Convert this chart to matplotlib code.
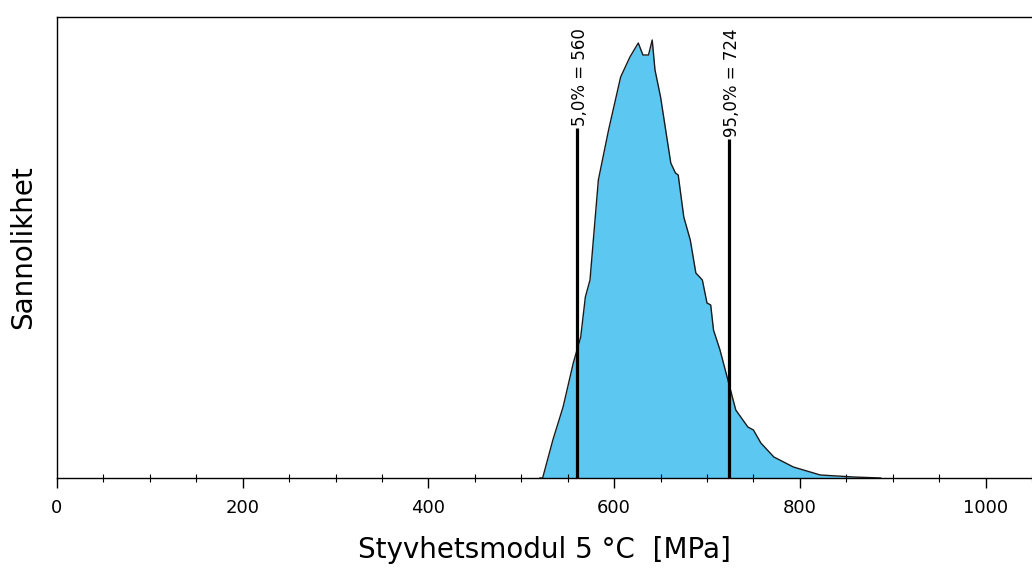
import numpy as np
import matplotlib.pyplot as plt

plt.rcParams['font.family'] = ['DejaVu Sans']

# stiffness modulus at 5 C, simulated distribution (relative probability per bin)
modul = [520, 523, 534, 545, 556, 564, 569, 574, 583, 594, 607, 617, 626,
         631, 637, 641, 644, 650, 661, 666, 669, 675, 682, 688, 695, 700,
         704, 707, 714, 731, 744, 750, 758, 772, 793, 822, 858, 887]
sannolikhet = [0.0, 0.0, 0.0038, 0.0071, 0.0115, 0.0141, 0.0181, 0.0198,
               0.0298, 0.0348, 0.0401, 0.0421, 0.0435, 0.0423, 0.0423,
               0.0438, 0.0408, 0.0381, 0.0315, 0.0305, 0.0303, 0.0261,
               0.0238, 0.0205, 0.0198, 0.0175, 0.0173, 0.0148, 0.0128,
               0.0068, 0.0051, 0.0048, 0.0035, 0.0021, 0.0011, 0.0003,
               0.0001, 0.0]

# percentiles
pct_labels = ["5,0% = 560", "95,0% = 724"]
pct_values = [560, 724]
pct_heights = [0.0350, 0.0339]

fig = plt.figure(figsize=(10.32, 5.72), dpi=100)
ax = fig.add_axes([57 / 1032, 94 / 572, 975 / 1032, 461 / 572])

ax.fill_between(modul, sannolikhet, color="#5CC7F0", lw=0)
ax.plot(modul, sannolikhet, color="#1a1a1a", lw=1.0)

for lab, v, h in zip(pct_labels, pct_values, pct_heights):
    ax.plot([v, v], [0, h], color="black", lw=2.3, solid_capstyle="butt")
    ax.text(v + 3, h + 0.0002, lab, rotation=90, ha="center", va="bottom",
            fontsize=12)

ax.set_xlim(0, 1050)
ax.set_ylim(0, 0.0461)
ax.set_yticks([])
ax.set_xticks(np.arange(0, 1001, 200))
ax.set_xticks(np.arange(0, 1051, 50), minor=True)
ax.tick_params(axis="x", which="major", direction="out", length=7, width=1,
               labelsize=13, pad=8)
ax.tick_params(axis="x", which="minor", direction="inout", length=6, width=0.8)
ax.spines["right"].set_visible(False)
for s in ["left", "top", "bottom"]:
    ax.spines[s].set_linewidth(1.0)

ax.set_xlabel("Styvhetsmodul 5 °C  [MPa]", fontsize=20, labelpad=14)
ax.set_ylabel("Sannolikhet", fontsize=20, labelpad=14)

fig.savefig("out.png", dpi=100)
